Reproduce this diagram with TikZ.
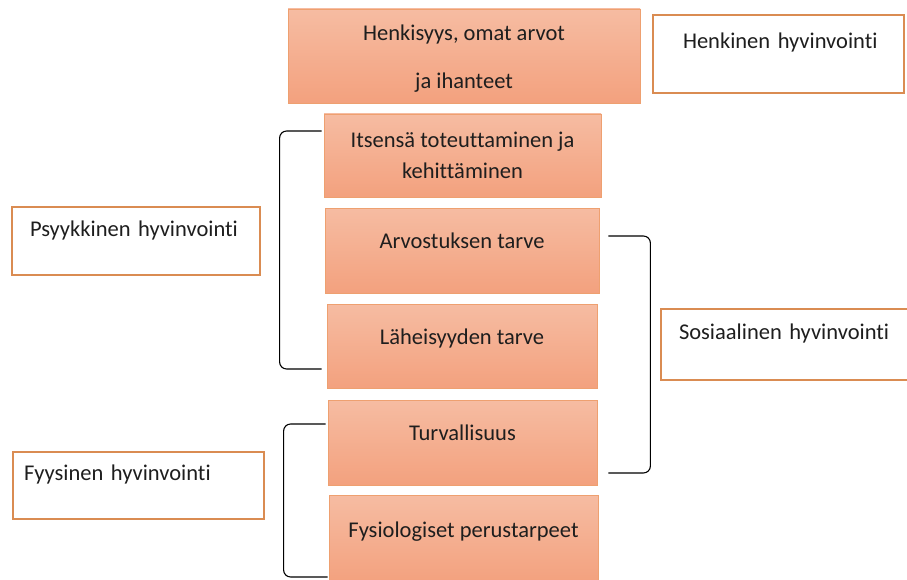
\documentclass[tikz,border=0pt]{standalone}
\usepackage{fontspec}
\setmainfont{Carlito}[Ligatures={NoCommon,NoRequired,NoContextual}]
\usepackage{tikz}
\definecolor{boxtop}{RGB}{246,188,162}
\definecolor{boxbot}{RGB}{243,161,126}
\definecolor{boxline}{RGB}{238,160,112}
\definecolor{wline}{RGB}{218,140,82}
\definecolor{txt}{RGB}{30,30,30}

\begin{document}
\begin{tikzpicture}[x=1pt,y=-1pt,
  font=\fontsize{22.5}{26}\selectfont, text=txt,
  level/.style={draw=boxline, line width=0.8pt, top color=boxtop, bottom color=boxbot,
    align=center, inner sep=0pt},
  onerow/.style={level, text height=15pt, text depth=19pt},
  wbox/.style={draw=wline, line width=1.6pt, fill=white, inner xsep=0pt, align=left,
    text height=15pt, text depth=25pt},
  brace/.style={line width=1.1pt, rounded corners=7pt}]
\clip (0,0) rectangle (907,580);
\fill[white] (0,0) rectangle (907,580);
% the pyramid of needs
\node[level, minimum width=352pt, minimum height=94pt, text height=69.5pt] (hen) at (464,56) {Henkisyys, omat arvot\\[22pt]ja ihanteet};
\node[level, minimum width=277pt, minimum height=83pt] (its) at (462.5,155.5) {Itsensä toteuttaminen ja\\[5pt]kehittäminen};
\node[onerow, minimum width=274pt, minimum height=85pt] (arv) at (462,250.5) {Arvostuksen tarve};
\node[onerow, minimum width=270pt, minimum height=84pt] (lah) at (462,346) {Läheisyyden tarve};
\node[onerow, minimum width=269pt, minimum height=85pt] (tur) at (462.5,442.5) {Turvallisuus};
\node[onerow, minimum width=269pt, minimum height=88pt] (fys) at (463.5,539) {Fysiologiset perustarpeet};
% kinds of wellbeing
\node[wbox, text width=251pt, minimum height=78pt] (henk) at (778.5,54) {\hspace*{30pt}Henkinen hyvinvointi};
\node[wbox, text width=248pt, minimum height=68pt] (psy) at (136,241) {\hspace*{18pt}Psyykkinen hyvinvointi};
\node[wbox, text width=251pt, minimum height=71pt] (sos) at (786.5,344.5) {\hspace*{18pt}Sosiaalinen hyvinvointi};
\node[wbox, text width=251pt, minimum height=67pt] (fyy) at (138.5,485.5) {\hspace*{11pt}Fyysinen hyvinvointi};
% brackets
\draw[brace] ([xshift=-2pt,yshift=24.5pt]its.west) -- ++(-42,0) |- ([xshift=-5pt,yshift=-23pt]lah.west);
\draw[brace] ([xshift=9pt,yshift=14.5pt]arv.east) -- ++(42,0) |- ([xshift=11pt,yshift=-30.5pt]tur.east);
\draw[brace] ([xshift=-2pt,yshift=18.5pt]tur.west) -- ++(-42,0) |- ([xshift=-1pt,yshift=-38pt]fys.west);
\end{tikzpicture}
\end{document}
